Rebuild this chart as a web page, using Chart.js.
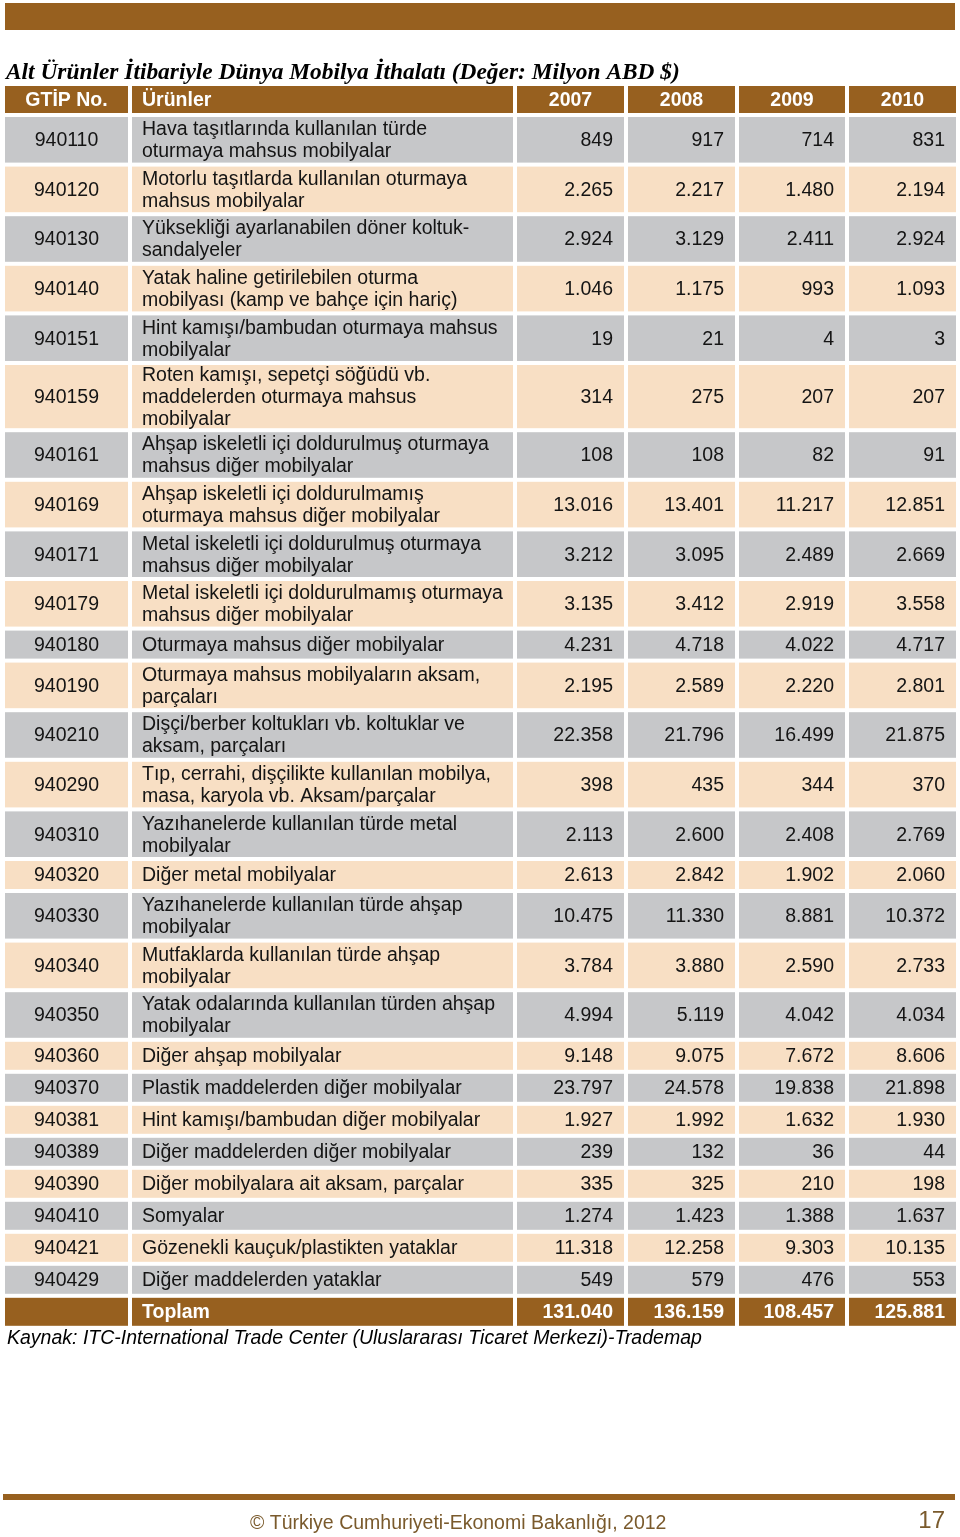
<!DOCTYPE html>
<html lang="tr">
<head>
<meta charset="utf-8">
<title>Alt Ürünler İtibariyle Dünya Mobilya İthalatı</title>
<script src="https://cdn.jsdelivr.net/npm/chart.js@4.4.1/dist/chart.umd.min.js"></script>
<style>
  html, body { margin: 0; padding: 0; background: #fff; }
  #tablo { display: block; }
</style>
</head>
<body>
<canvas id="tablo" width="960" height="1537"></canvas>
<script>
// veriler (Milyon ABD $)
const baslik = "Alt Ürünler İtibariyle Dünya Mobilya İthalatı (Değer: Milyon ABD $)";
const kaynak = "Kaynak: ITC-International Trade Center (Uluslararası Ticaret Merkezi)-Trademap";
const altBilgi = "© Türkiye Cumhuriyeti-Ekonomi Bakanlığı, 2012";
const sayfaNo = "17";

const sutunBasliklari = ["GTİP No.", "Ürünler"];
const yillar = ["2007", "2008", "2009", "2010"];

const gtipKodlari = [
  "940110", "940120", "940130", "940140", "940151", "940159", "940161", "940169", "940171",
  "940179", "940180", "940190", "940210", "940290", "940310", "940320", "940330", "940340",
  "940350", "940360", "940370", "940381", "940389", "940390", "940410", "940421", "940429"
];

const urunler = [
  "Hava taşıtlarında kullanılan türde\noturmaya mahsus mobilyalar",
  "Motorlu taşıtlarda kullanılan oturmaya\nmahsus mobilyalar",
  "Yüksekliği ayarlanabilen döner koltuk-\nsandalyeler",
  "Yatak haline getirilebilen oturma\nmobilyası (kamp ve bahçe için hariç)",
  "Hint kamışı/bambudan oturmaya mahsus\nmobilyalar",
  "Roten kamışı, sepetçi söğüdü vb.\nmaddelerden oturmaya mahsus\nmobilyalar",
  "Ahşap iskeletli içi doldurulmuş oturmaya\nmahsus diğer mobilyalar",
  "Ahşap iskeletli içi doldurulmamış\noturmaya mahsus diğer mobilyalar",
  "Metal iskeletli içi doldurulmuş oturmaya\nmahsus diğer mobilyalar",
  "Metal iskeletli içi doldurulmamış oturmaya\nmahsus diğer mobilyalar",
  "Oturmaya mahsus diğer mobilyalar",
  "Oturmaya mahsus mobilyaların aksam,\nparçaları",
  "Dişçi/berber koltukları vb. koltuklar ve\naksam, parçaları",
  "Tıp, cerrahi, dişçilikte kullanılan mobilya,\nmasa, karyola vb. Aksam/parçalar",
  "Yazıhanelerde kullanılan türde metal\nmobilyalar",
  "Diğer metal mobilyalar",
  "Yazıhanelerde kullanılan türde ahşap\nmobilyalar",
  "Mutfaklarda kullanılan türde ahşap\nmobilyalar",
  "Yatak odalarında kullanılan türden ahşap\nmobilyalar",
  "Diğer ahşap mobilyalar",
  "Plastik maddelerden diğer mobilyalar",
  "Hint kamışı/bambudan diğer mobilyalar",
  "Diğer maddelerden diğer mobilyalar",
  "Diğer mobilyalara ait aksam, parçalar",
  "Somyalar",
  "Gözenekli kauçuk/plastikten yataklar",
  "Diğer maddelerden yataklar"
];

const degerler2007 = [849, 2265, 2924, 1046, 19, 314, 108, 13016, 3212, 3135, 4231, 2195, 22358, 398, 2113, 2613, 10475, 3784, 4994, 9148, 23797, 1927, 239, 335, 1274, 11318, 549];
const degerler2008 = [917, 2217, 3129, 1175, 21, 275, 108, 13401, 3095, 3412, 4718, 2589, 21796, 435, 2600, 2842, 11330, 3880, 5119, 9075, 24578, 1992, 132, 325, 1423, 12258, 579];
const degerler2009 = [714, 1480, 2411, 993, 4, 207, 82, 11217, 2489, 2919, 4022, 2220, 16499, 344, 2408, 1902, 8881, 2590, 4042, 7672, 19838, 1632, 36, 210, 1388, 9303, 476];
const degerler2010 = [831, 2194, 2924, 1093, 3, 207, 91, 12851, 2669, 3558, 4717, 2801, 21875, 370, 2769, 2060, 10372, 2733, 4034, 8606, 21898, 1930, 44, 198, 1637, 10135, 553];

const toplamEtiketi = "Toplam";
const toplamlar = [131040, 136159, 108457, 125881];

// düzen / renkler
const KAHVE = "#97601f";
const GRI = "#c6c7c9";
const KREM = "#f8dfc4";
const YAZI = "#141414";
const FONT = "'Liberation Sans', Arial, sans-serif";

// sütun kenarları (x ölçeği birimi)
const sutunlar = [[5, 128], [132, 513], [517, 624], [628, 735], [739, 845], [849, 956]];
const SATIR_ARA = 4;
const BASLIK_UST = 86, BASLIK_YUK = 27;
const SATIR_SATIRI = 22; // metin satır aralığı

function satirYuksekligi(n) { return 28 + 17.6 * (n - 1); }

function bicimle(v) {
  // binlik ayırıcı nokta
  return String(v).replace(/\B(?=(\d{3})+(?!\d))/g, ".");
}

const yilDegerleri = [degerler2007, degerler2008, degerler2009, degerler2010];

const tabloCizici = {
  id: "tabloCizici",
  afterDraw(chart) {
    const ctx = chart.ctx;
    const x = chart.scales.x, y = chart.scales.y;
    const px = v => x.getPixelForValue(v);
    const py = v => y.getPixelForValue(v);

    function hucre(c, ust, yuk, renk) {
      const [a, b] = sutunlar[c];
      ctx.fillStyle = renk;
      ctx.fillRect(px(a), py(ust), px(b) - px(a), py(ust + yuk) - py(ust));
    }
    function yaz(metin, c, orta, hiza, font, renk) {
      const [a, b] = sutunlar[c];
      ctx.font = font;
      ctx.fillStyle = renk;
      ctx.textBaseline = "middle";
      ctx.textAlign = hiza;
      let xx;
      if (hiza === "center") xx = (px(a) + px(b)) / 2;
      else if (hiza === "right") xx = px(b) - 11;
      else xx = px(a) + 10;
      ctx.fillText(metin, xx, orta);
    }

    ctx.save();

    // üst şerit
    ctx.fillStyle = KAHVE;
    ctx.fillRect(px(5), py(3), px(955) - px(5), py(30) - py(3));

    // başlık
    ctx.font = "bold italic 23.4px 'Liberation Serif', 'Times New Roman', serif";
    ctx.fillStyle = "#000";
    ctx.textAlign = "left";
    ctx.textBaseline = "middle";
    ctx.fillText(baslik, px(6), py(73));

    // tablo başlık satırı
    const bOrta = py(BASLIK_UST + BASLIK_YUK / 2 + 1);
    const bFont = "bold 19.5px " + FONT;
    for (let c = 0; c < 6; c++) hucre(c, BASLIK_UST, BASLIK_YUK, KAHVE);
    yaz(sutunBasliklari[0], 0, bOrta, "center", bFont, "#fff");
    yaz(sutunBasliklari[1], 1, bOrta, "left", bFont, "#fff");
    yillar.forEach((yl, i) => yaz(yl, i + 2, bOrta, "center", bFont, "#fff"));

    // veri satırları
    const gFont = "19.5px " + FONT;
    let ust = BASLIK_UST + BASLIK_YUK + SATIR_ARA;
    gtipKodlari.forEach((kod, r) => {
      const satirlar = urunler[r].split("\n");
      const yuk = satirYuksekligi(satirlar.length);
      const renk = r % 2 === 0 ? GRI : KREM;
      for (let c = 0; c < 6; c++) hucre(c, ust, yuk, renk);
      const orta = ust + yuk / 2 + 1;
      yaz(kod, 0, py(orta), "center", gFont, YAZI);
      satirlar.forEach((s, i) => {
        const sy = orta + (i - (satirlar.length - 1) / 2) * SATIR_SATIRI;
        yaz(s, 1, py(sy), "left", gFont, YAZI);
      });
      yilDegerleri.forEach((dizi, i) => yaz(bicimle(dizi[r]), i + 2, py(orta), "right", gFont, YAZI));
      ust += yuk + SATIR_ARA;
    });

    // toplam satırı
    const tYuk = satirYuksekligi(1);
    for (let c = 0; c < 6; c++) hucre(c, ust, tYuk, KAHVE);
    const tOrta = py(ust + tYuk / 2 + 1);
    const tFont = "bold 19.5px " + FONT;
    yaz(toplamEtiketi, 1, tOrta, "left", tFont, "#fff");
    toplamlar.forEach((v, i) => yaz(bicimle(v), i + 2, tOrta, "right", tFont, "#fff"));

    // kaynak
    ctx.font = "italic 19.5px " + FONT;
    ctx.fillStyle = "#000";
    ctx.textAlign = "left";
    ctx.fillText(kaynak, px(7), py(ust + tYuk + 13));

    // alt çizgi ve alt bilgi
    ctx.fillStyle = KAHVE;
    ctx.fillRect(px(3), py(1494), px(955) - px(3), py(1500) - py(1494));
    ctx.font = "19.5px " + FONT;
    ctx.fillStyle = "#7a5a2c";
    ctx.textAlign = "left";
    ctx.fillText(altBilgi, px(250), py(1524));
    ctx.font = "24px " + FONT;
    ctx.textAlign = "right";
    ctx.fillText(sayfaNo, px(945), py(1521));

    ctx.restore();
  }
};

new Chart(document.getElementById("tablo"), {
  type: "bar",
  data: { labels: [], datasets: [] },
  options: {
    responsive: false,
    animation: false,
    layout: { padding: 0 },
    plugins: { legend: { display: false }, tooltip: { enabled: false }, title: { display: false } },
    scales: {
      x: { type: "linear", min: 0, max: 960, offset: false, display: false },
      y: { type: "linear", min: 0, max: 1537, reverse: true, offset: false, display: false }
    }
  },
  plugins: [tabloCizici]
});
</script>
</body>
</html>
